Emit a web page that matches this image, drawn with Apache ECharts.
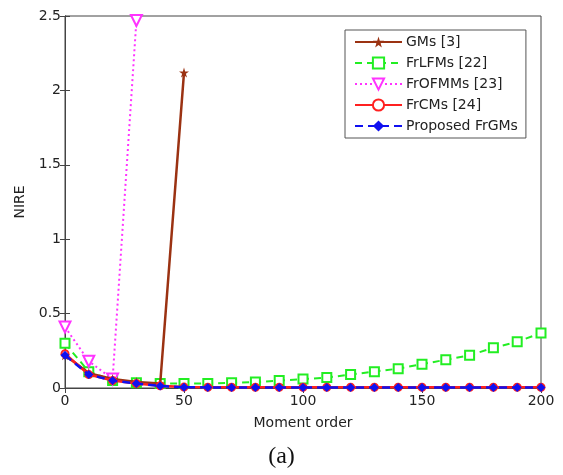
<!DOCTYPE html>
<html><head><meta charset="utf-8">
<script src="https://cdn.jsdelivr.net/npm/echarts@6/dist/echarts.min.js"></script>
<style>html,body{margin:0;padding:0;background:#fff}#c{width:563px;height:475px}</style>
</head><body><div id="c"></div>
<script>
const xValues = [0,10,20,30,40,50,60,70,80,90,100,110,120,130,140,150,160,170,180,190,200];
const gms = [0.22,0.10,0.06,0.04,0.03,2.12];
const frlfms = [0.30,0.11,0.05,0.035,0.03,0.03,0.03,0.035,0.04,0.05,0.06,0.07,0.09,0.11,0.13,0.16,0.19,0.22,0.27,0.31,0.37];
const frofmms = [0.41,0.18,0.06,2.47];
const frcms = [0.23,0.09,0.05,0.03,0.015,0.006,0.005,0.005,0.005,0.005,0.005,0.005,0.005,0.005,0.005,0.005,0.005,0.005,0.005,0.005,0.005];
const proposed = [0.22,0.09,0.05,0.03,0.014,0.005,0.004,0.004,0.004,0.004,0.004,0.004,0.004,0.004,0.004,0.004,0.004,0.004,0.004,0.004,0.004];
const seriesNames = ['GMs [3]','FrLFMs [22]','FrOFMMs [23]','FrCMs [24]','Proposed FrGMs'];
const xTicks = [0,50,100,150,200];
const yTicks = ['0','0.5','1','1.5','2','2.5'];

function pairs(vals){ return vals.map((v,i)=>[xValues[i],v]); }
const star = 'path://M50,0 L61,35 L98,35 L68,57 L79,91 L50,70 L21,91 L32,57 L2,35 L39,35 Z';

const chart = echarts.init(document.getElementById('c'));
const FONT = '"DejaVu Sans", Arial, sans-serif';
const txt = {fontFamily:FONT, fontSize:14, color:'#222'};
chart.setOption({
  animation:false,
  backgroundColor:'#fff',
  grid:{left:65,right:22,top:16,bottom:87,show:true,borderColor:'#444',borderWidth:1,backgroundColor:'transparent'},
  legend:{
    orient:'vertical', left:345, top:30, width:183,
    backgroundColor:'#fff', borderColor:'#555', borderWidth:1,
    padding:[5,8,5,9], itemGap:7, itemWidth:47, itemHeight:14,
    textStyle:{fontFamily:FONT, fontSize:14, color:'#222', padding:[0,0,0,-1]},
    data:seriesNames
  },
  xAxis:[{
    type:'value', min:0, max:200, interval:50, position:'bottom',
    name:'Moment order', nameLocation:'middle', nameGap:28,
    nameTextStyle:txt,
    axisLine:{show:true,onZero:false,lineStyle:{color:'#444'}},
    axisTick:{show:true,inside:true,length:5,lineStyle:{color:'#444'}},
    axisLabel:Object.assign({margin:6, formatter:v=>xTicks.includes(v)?String(v):''},txt),
    splitLine:{show:false}
  },{
    type:'value', min:0, max:200, interval:50, position:'top',
    axisLine:{show:true,lineStyle:{color:'#444'}},
    axisTick:{show:true,inside:true,length:5,lineStyle:{color:'#444'}},
    axisLabel:{show:false}, splitLine:{show:false}
  }],
  yAxis:[{
    type:'value', min:0, max:2.5, interval:0.5, position:'left',
    name:'NIRE', nameLocation:'middle', nameGap:32, nameRotate:90,
    nameTextStyle:txt,
    axisLine:{show:true,onZero:false,lineStyle:{color:'#444'}},
    axisTick:{show:true,inside:true,length:5,lineStyle:{color:'#444'}},
    axisLabel:Object.assign({margin:4, formatter:(v)=>{const i=Math.round(v/0.5);return yTicks[i]||'';}},txt),
    splitLine:{show:false}
  },{
    type:'value', min:0, max:2.5, interval:0.5, position:'right',
    axisLine:{show:true,lineStyle:{color:'#444'}},
    axisTick:{show:true,inside:true,length:5,lineStyle:{color:'#444'}},
    axisLabel:{show:false}, splitLine:{show:false}
  }],
  graphic:[{type:'text', left:'center', top:445, style:{text:'(a)', font:'24px "Liberation Serif", "Times New Roman", serif', fill:'#111'}}],
  series:[
    {name:seriesNames[0], type:'line', data:pairs(gms), symbol:star, symbolSize:10, showAllSymbol:true,
     lineStyle:{color:'#9B3212',width:2.5}, itemStyle:{color:'#9B3212'}, z:3},
    {name:seriesNames[1], type:'line', data:pairs(frlfms), symbol:'emptyRect', symbolSize:9,
     lineStyle:{color:'#22EE22',width:2,type:[7,5]}, itemStyle:{color:'#22EE22',borderWidth:2}, z:2},
    {name:seriesNames[2], type:'line', data:pairs(frofmms), symbol:'emptyTriangle', symbolRotate:180, symbolSize:11,
     lineStyle:{color:'#FF33FF',width:2,type:[2,3]}, itemStyle:{color:'#FF33FF',borderWidth:2}, z:2},
    {name:seriesNames[3], type:'line', data:pairs(frcms), symbol:'emptyCircle', symbolSize:7,
     lineStyle:{color:'#FF2020',width:2.5}, itemStyle:{color:'#FF2020',borderWidth:2}, z:4},
    {name:seriesNames[4], type:'line', data:pairs(proposed), symbol:'diamond', symbolSize:9,
     lineStyle:{color:'#1010F0',width:2.5,type:[8,5]}, itemStyle:{color:'#1010F0'}, z:5}
  ]
});
</script></body></html>
